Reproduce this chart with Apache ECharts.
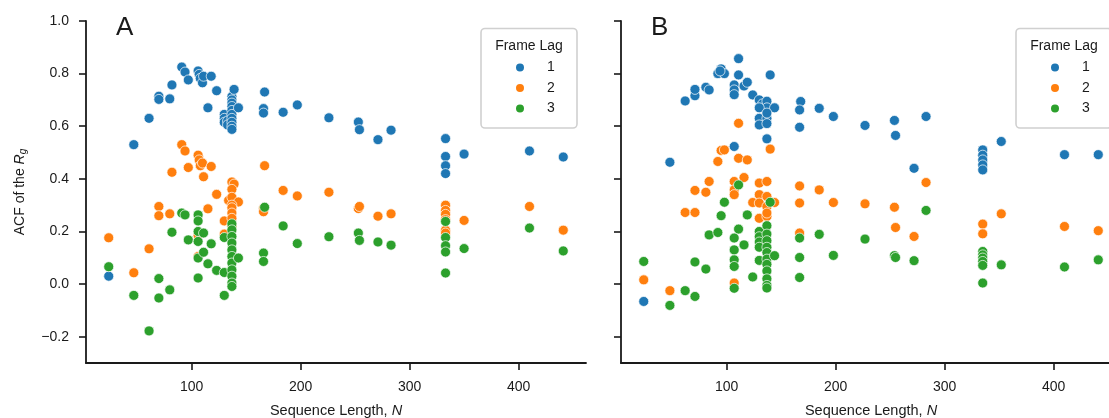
<!DOCTYPE html>
<html>
<head>
<meta charset="utf-8">
<script src="https://cdn.jsdelivr.net/npm/echarts@6/dist/echarts.min.js"></script>
<style>
  html, body { margin: 0; padding: 0; background: #fff; }
  #chart { width: 1109px; height: 418px; }
</style>
</head>
<body>
<div id="chart"></div>
<script>
// Autocorrelation of the radius of gyration vs. sequence length, per frame lag.
// Each entry: [sequence length N, ACF value]

// Panel A
const lagA1 = [[24,0.03],[47,0.53],[61,0.63],[70,0.714],[70,0.702],[80,0.704],[82,0.757],[91,0.825],[94,0.806],[97,0.776],[106,0.81],[107,0.797],[108,0.782],[110,0.765],[111,0.79],[118,0.79],[115,0.67],[123,0.735],[130,0.645],[130,0.63],[130,0.615],[133,0.62],[133,0.605],[137,0.713],[137,0.70],[137,0.688],[137,0.675],[137,0.66],[137,0.645],[137,0.63],[137,0.615],[137,0.60],[137,0.588],[139,0.74],[143,0.67],[166,0.667],[166,0.65],[167,0.73],[184,0.653],[197,0.681],[226,0.632],[253,0.616],[254,0.587],[271,0.549],[283,0.585],[333,0.553],[333,0.485],[333,0.45],[333,0.42],[350,0.494],[410,0.506],[441,0.483]];
const lagA2 = [[24,0.176],[47,0.043],[61,0.134],[70,0.295],[70,0.26],[80,0.267],[82,0.425],[91,0.53],[94,0.506],[97,0.443],[106,0.49],[107,0.472],[108,0.45],[110,0.46],[111,0.408],[118,0.447],[115,0.286],[123,0.341],[106,0.185],[106,0.105],[130,0.24],[130,0.19],[137,0.388],[139,0.38],[137,0.36],[134,0.318],[137,0.33],[143,0.312],[137,0.30],[137,0.29],[137,0.27],[137,0.25],[137,0.22],[166,0.288],[166,0.275],[167,0.45],[184,0.356],[197,0.335],[226,0.349],[253,0.287],[254,0.295],[271,0.258],[283,0.267],[333,0.30],[333,0.28],[333,0.265],[333,0.245],[333,0.205],[333,0.194],[350,0.242],[410,0.295],[441,0.205]];
const lagA3 = [[24,0.066],[47,-0.043],[61,-0.178],[70,0.021],[70,-0.053],[80,-0.022],[82,0.197],[91,0.27],[94,0.263],[97,0.168],[106,0.263],[106,0.24],[106,0.2],[106,0.162],[106,0.099],[106,0.023],[111,0.194],[111,0.121],[115,0.077],[118,0.153],[123,0.052],[130,0.177],[130,0.044],[130,-0.043],[137,0.229],[137,0.206],[137,0.181],[137,0.156],[137,0.13],[137,0.105],[137,0.08],[137,0.054],[137,0.03],[137,0.004],[137,-0.009],[143,0.099],[166,0.118],[166,0.086],[167,0.292],[184,0.221],[197,0.154],[226,0.18],[253,0.194],[254,0.166],[271,0.16],[283,0.148],[333,0.238],[333,0.177],[333,0.146],[333,0.122],[333,0.042],[350,0.135],[410,0.213],[441,0.126]];

// Panel B
const lagB1 = [[24,-0.066],[48,0.463],[62,0.696],[71,0.716],[71,0.74],[81,0.748],[84,0.738],[92,0.80],[95,0.818],[98,0.80],[94,0.81],[107,0.523],[107,0.757],[107,0.738],[107,0.72],[111,0.857],[111,0.795],[116,0.753],[119,0.767],[124,0.719],[130,0.70],[133,0.685],[137,0.695],[137,0.67],[130,0.67],[144,0.67],[130,0.63],[137,0.63],[130,0.605],[137,0.61],[137,0.65],[140,0.795],[137,0.552],[168,0.694],[167,0.662],[167,0.596],[185,0.668],[198,0.637],[227,0.603],[254,0.622],[255,0.565],[272,0.44],[283,0.637],[335,0.51],[335,0.49],[335,0.472],[335,0.453],[335,0.434],[352,0.542],[410,0.492],[441,0.492]];
const lagB2 = [[24,0.016],[48,-0.025],[62,0.272],[71,0.272],[71,0.356],[81,0.349],[84,0.39],[92,0.466],[95,0.508],[98,0.51],[107,0.39],[107,0.358],[107,0.34],[107,0.004],[111,0.611],[111,0.478],[119,0.472],[116,0.405],[124,0.31],[130,0.384],[137,0.39],[130,0.34],[137,0.333],[130,0.308],[137,0.295],[144,0.31],[130,0.25],[137,0.257],[137,0.27],[140,0.513],[167,0.373],[167,0.308],[167,0.194],[185,0.358],[198,0.31],[227,0.305],[254,0.292],[255,0.215],[272,0.181],[283,0.386],[335,0.228],[335,0.191],[352,0.267],[410,0.219],[441,0.203]];
const lagB3 = [[24,0.086],[48,-0.081],[62,-0.025],[71,-0.047],[71,0.084],[81,0.057],[84,0.187],[92,0.196],[95,0.26],[98,0.311],[111,0.377],[111,0.209],[107,0.175],[107,0.13],[107,0.092],[107,0.067],[107,-0.016],[116,0.149],[119,0.263],[124,0.027],[130,0.2],[130,0.18],[130,0.16],[130,0.14],[130,0.09],[137,0.222],[140,0.311],[137,0.19],[137,0.165],[137,0.14],[137,0.12],[137,0.095],[137,0.075],[137,0.05],[137,0.02],[137,-0.005],[137,-0.015],[144,0.108],[167,0.175],[167,0.101],[167,0.025],[185,0.189],[198,0.109],[227,0.171],[254,0.108],[255,0.101],[272,0.089],[283,0.28],[335,0.124],[335,0.111],[335,0.099],[335,0.086],[335,0.071],[335,0.004],[352,0.073],[410,0.065],[441,0.092]];

const lagNames = ['1', '2', '3'];
const lagColors = ['#1f77b4', '#ff7f0e', '#2ca02c'];
const xTicks = [100, 200, 300, 400];
const yTicks = [-0.2, 0.0, 0.2, 0.4, 0.6, 0.8, 1.0];
const panelLetters = ['A', 'B'];

const FONT = '"Liberation Sans", Arial, Helvetica, sans-serif';
const INK = '#1a1a1a';
const X_MIN = 3.15, X_MAX = 461.85, Y_MIN = -0.3, Y_MAX = 1.0;

const grids = [
  { left: 86, top: 21, width: 500, height: 342, containLabel: false, outerBoundsMode: 'none' },
  { left: 621, top: 21, width: 500, height: 342, containLabel: false, outerBoundsMode: 'none' }
];

const axisLine = { show: true, onZero: false, lineStyle: { color: INK, width: 1.8 } };
const axisTick = { show: true, inside: false, length: 7, lineStyle: { color: INK, width: 1.6 } };

function fmtY(v) {
  const s = Math.abs(v).toFixed(1);
  return v < 0 ? '\u2212' + s : s;
}

const xAxes = grids.map((g, i) => ({
  type: 'value', gridIndex: i, min: X_MIN, max: X_MAX,
  axisLine, splitLine: { show: false },
  axisTick: Object.assign({}, axisTick, { customValues: xTicks }),
  axisLabel: { customValues: xTicks, margin: 17, fontSize: 14, fontFamily: FONT, color: INK },
  name: 'Sequence Length, {it|N}', nameLocation: 'middle', nameGap: 40,
  nameTextStyle: {
    fontSize: 14.5, fontFamily: FONT, color: INK,
    rich: { it: { fontSize: 14.5, fontFamily: FONT, fontStyle: 'italic', color: INK } }
  }
}));

const yAxes = grids.map((g, i) => ({
  type: 'value', gridIndex: i, min: Y_MIN, max: Y_MAX,
  axisLine, splitLine: { show: false },
  axisTick: Object.assign({}, axisTick, { customValues: yTicks }),
  axisLabel: {
    show: i === 0, customValues: yTicks, margin: 17, fontSize: 14,
    fontFamily: FONT, color: INK, formatter: fmtY
  },
  name: i === 0 ? 'ACF of the {it|R}{sub|g}' : '',
  nameLocation: 'middle', nameGap: 58, nameRotate: 90,
  nameTextStyle: {
    fontSize: 14, fontFamily: FONT, color: INK,
    rich: {
      it: { fontSize: 14, fontFamily: FONT, fontStyle: 'italic', color: INK },
      sub: { fontSize: 10, fontFamily: FONT, fontStyle: 'italic', color: INK, padding: [6, 0, 0, 0] }
    }
  }
}));

const panelData = [[lagA1, lagA2, lagA3], [lagB1, lagB2, lagB3]];
const series = [];
panelData.forEach((sets, p) => {
  sets.forEach((pts, k) => {
    series.push({
      type: 'scatter', name: lagNames[k], xAxisIndex: p, yAxisIndex: p,
      data: pts, symbol: 'circle', symbolSize: 10,
      itemStyle: { color: lagColors[k], borderColor: '#ffffff', borderWidth: 0.7, opacity: 1 },
      emphasis: { disabled: true }, silent: true, z: 2
    });
  });
});

// Legend frames, titles and panel letters
const graphic = [];
grids.forEach((g, p) => {
  const bx = g.left + 395;
  graphic.push({
    type: 'rect', z: 5,
    shape: { x: bx, y: 28.5, width: 96, height: 99.5, r: 4 },
    style: { fill: 'rgba(255,255,255,0.85)', stroke: '#d0d0d0', lineWidth: 1.6 }
  });
  graphic.push({
    type: 'text', z: 6, x: bx + 48, y: 46.5,
    style: { text: 'Frame Lag', font: '14px ' + FONT, fill: INK, textAlign: 'center', textVerticalAlign: 'middle' }
  });
  graphic.push({
    type: 'text', z: 6, x: g.left + 30, y: 28,
    style: { text: panelLetters[p], font: '26px ' + FONT, fill: INK, textAlign: 'left', textVerticalAlign: 'middle' }
  });
});

const legends = grids.map((g) => ({
  data: lagNames.map((n) => ({ name: n, icon: 'circle' })),
  orient: 'vertical', left: g.left + 428, top: 59.5, padding: 0,
  itemWidth: 10, itemHeight: 10, itemGap: 4.5, z: 7,
  selectedMode: false,
  textStyle: { fontSize: 14, fontFamily: FONT, color: INK, lineHeight: 16, padding: [0, 0, 0, 17] }
}));

const chart = echarts.init(document.getElementById('chart'), null, { renderer: 'canvas' });
chart.setOption({
  animation: false,
  backgroundColor: '#ffffff',
  textStyle: { fontFamily: FONT },
  grid: grids,
  xAxis: xAxes,
  yAxis: yAxes,
  legend: legends,
  graphic,
  series
});
</script>
</body>
</html>
